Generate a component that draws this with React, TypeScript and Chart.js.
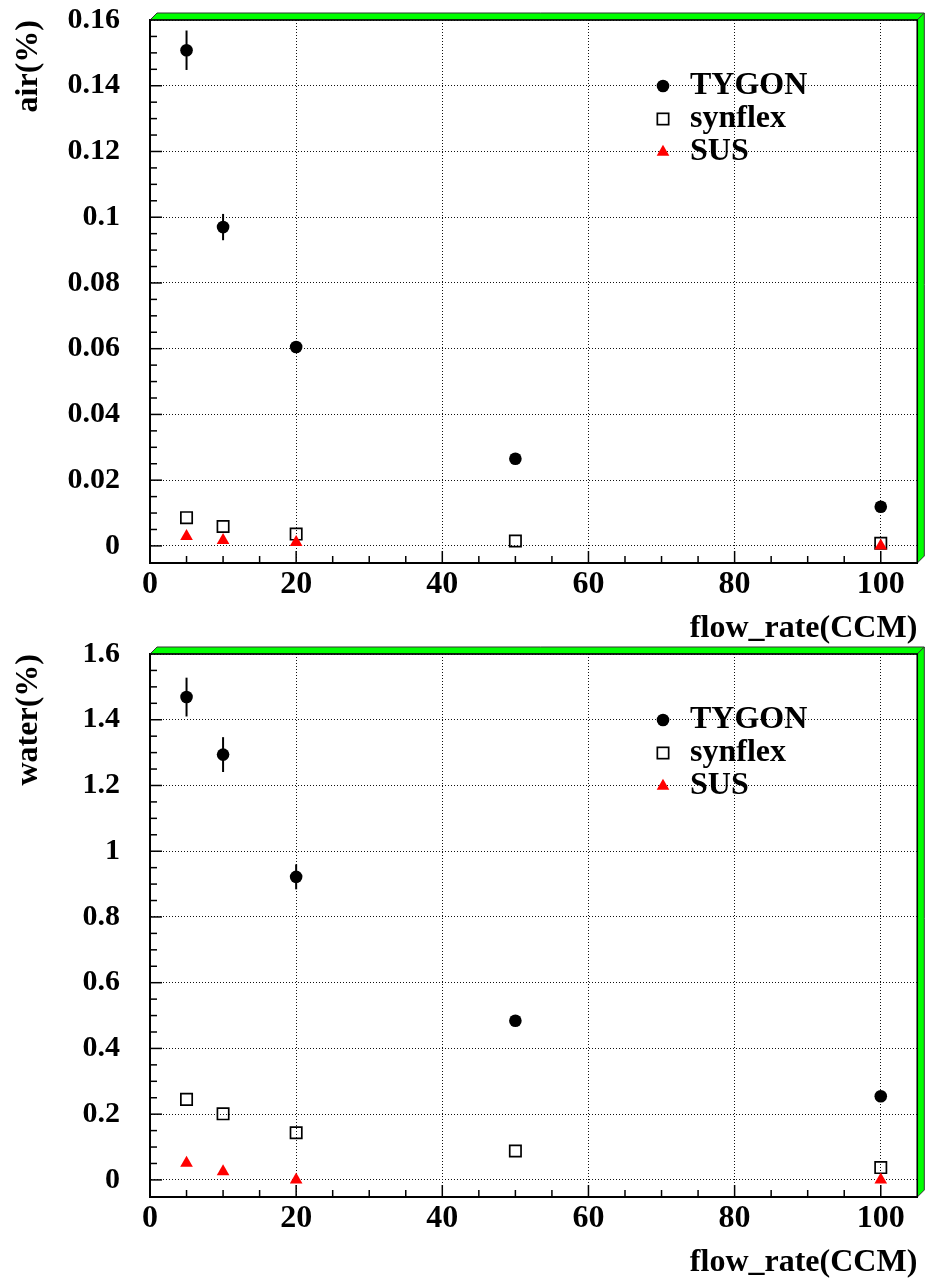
import React, { useEffect, useRef } from 'react';
import { Chart, registerables } from 'chart.js';

Chart.register(...registerables);

// ---------- data ----------
const FLOW = [5, 10, 20, 50, 100];
const FLOW_SUS = [5, 10, 20, 100];

const AIR_TYGON = [0.1508, 0.097, 0.0605, 0.0265, 0.0119];
const AIR_TYGON_ERR = [0.006, 0.004, 0.0015, 0.0008, 0.0005];
const AIR_SYNFLEX = [0.0086, 0.0059, 0.0036, 0.0015, 0.0008];
const AIR_SUS = [0.0029, 0.0017, 0.0011, 0.0];

const WATER_TYGON = [1.469, 1.294, 0.922, 0.484, 0.2545];
const WATER_TYGON_ERR = [0.059, 0.053, 0.038, 0.015, 0.01];
const WATER_SYNFLEX = [0.245, 0.201, 0.1435, 0.088, 0.0375];
const WATER_SUS = [0.051, 0.0255, 0.0, 0.0];

const X_TICKS = [0, 20, 40, 60, 80, 100];
const AIR_TICKS = [0, 0.02, 0.04, 0.06, 0.08, 0.1, 0.12, 0.14, 0.16];
const WATER_TICKS = [0, 0.2, 0.4, 0.6, 0.8, 1, 1.2, 1.4, 1.6];

const SERIES_NAMES = ['TYGON', 'synflex', 'SUS'];

// ---------- styling ----------
const FONT = '"Liberation Serif", "Times New Roman", serif';
const W = 927;
const H = 648;

const fmt = (v: any) => String(Number(Number(v).toFixed(4)));

const rootPlugin = {
  id: 'rootFrame',
  beforeDatasetsDraw(chart: any, _args: any, opts: any) {
    const { ctx, chartArea } = chart;
    const { left, right, top, bottom } = chartArea;
    const xs = chart.scales.x;
    const ys = chart.scales.y;
    ctx.save();
    ctx.strokeStyle = '#000';
    ctx.lineWidth = 1.5;
    // x inward ticks
    for (let i = Math.ceil(xs.min / opts.xMinor - 1e-6); i * opts.xMinor <= xs.max + 1e-9; i++) {
      const px = xs.getPixelForValue(i * opts.xMinor);
      if (px < left + 1 || px > right - 1) continue;
      const len = i % opts.xRatio === 0 ? 12 : 7;
      ctx.beginPath();
      ctx.moveTo(px, bottom);
      ctx.lineTo(px, bottom - len);
      ctx.stroke();
    }
    // y inward ticks
    for (let i = Math.ceil(ys.min / opts.yMinor - 1e-6); i * opts.yMinor <= ys.max + 1e-9; i++) {
      const py = ys.getPixelForValue(i * opts.yMinor);
      if (py > bottom - 1.5 || py < top + 1) continue;
      const len = i % opts.yRatio === 0 ? 12 : 7;
      ctx.beginPath();
      ctx.moveTo(left, py);
      ctx.lineTo(left + len, py);
      ctx.stroke();
    }
    // error bars
    ctx.lineWidth = 2;
    chart.data.datasets.forEach((ds: any) => {
      const errs = ds.errorBars;
      if (!errs) return;
      ds.data.forEach((pt: any, j: number) => {
        const px = xs.getPixelForValue(pt.x);
        const y1 = ys.getPixelForValue(pt.y - errs[j]);
        const y2 = ys.getPixelForValue(pt.y + errs[j]);
        ctx.beginPath();
        ctx.moveTo(px, y1);
        ctx.lineTo(px, y2);
        ctx.stroke();
      });
    });
    ctx.restore();
  },
  afterDatasetsDraw(chart: any) {
    // legend inside the frame
    const { ctx, chartArea } = chart;
    const { left, top } = chartArea;
    ctx.save();
    chart.data.datasets.forEach((ds: any, i: number) => {
      const cy = top + 66 + 33 * i;
      const cx = left + 513;
      if (ds.pointStyle === 'circle') {
        ctx.fillStyle = ds.backgroundColor;
        ctx.beginPath();
        ctx.arc(cx, cy, ds.pointRadius, 0, Math.PI * 2);
        ctx.fill();
      } else if (ds.pointStyle === 'rect') {
        const s = Math.SQRT1_2 * ds.pointRadius;
        ctx.strokeStyle = ds.borderColor;
        ctx.lineWidth = ds.borderWidth;
        ctx.strokeRect(cx - s, cy - s, 2 * s, 2 * s);
      } else if (ds.pointStyle === 'triangle') {
        const r = ds.pointRadius;
        ctx.fillStyle = ds.backgroundColor;
        ctx.beginPath();
        let a = 0;
        ctx.moveTo(cx + Math.sin(a) * r, cy - Math.cos(a) * r);
        a += (2 * Math.PI) / 3;
        ctx.lineTo(cx + Math.sin(a) * r, cy - Math.cos(a) * r);
        a += (2 * Math.PI) / 3;
        ctx.lineTo(cx + Math.sin(a) * r, cy - Math.cos(a) * r);
        ctx.closePath();
        ctx.fill();
      }
      ctx.fillStyle = '#000';
      ctx.font = `bold 32px ${FONT}`;
      ctx.textAlign = 'left';
      ctx.textBaseline = 'middle';
      ctx.fillText(ds.label, left + 540, cy);
    });
    ctx.restore();
  },
  afterDraw(chart: any) {
    const { ctx, chartArea } = chart;
    const { left, right, top, bottom } = chartArea;
    const d = 7;
    ctx.save();
    ctx.fillStyle = '#00ff00';
    ctx.strokeStyle = '#333';
    ctx.lineWidth = 1;
    ctx.beginPath();
    ctx.moveTo(left, top);
    ctx.lineTo(left + d, top - d);
    ctx.lineTo(right + d, top - d);
    ctx.lineTo(right, top);
    ctx.closePath();
    ctx.fill();
    ctx.stroke();
    ctx.beginPath();
    ctx.moveTo(right, top);
    ctx.lineTo(right + d, top - d);
    ctx.lineTo(right + d, bottom - d);
    ctx.lineTo(right, bottom);
    ctx.closePath();
    ctx.fill();
    ctx.stroke();
    ctx.strokeStyle = '#000';
    ctx.lineWidth = 1.5;
    ctx.beginPath();
    ctx.moveTo(left, top);
    ctx.lineTo(right, top);
    ctx.lineTo(right, bottom);
    ctx.stroke();
    ctx.restore();
  },
};

type PanelProps = {
  top: number;
  yTitle: string;
  yMin: number;
  yMax: number;
  yTicks: number[];
  yMinor: number;
  tygon: number[];
  tygonErr: number[];
  synflex: number[];
  sus: number[];
};

function Panel(p: PanelProps) {
  const ref = useRef<HTMLCanvasElement>(null);
  useEffect(() => {
    const tickFontX = { family: FONT, size: 32, weight: 'bold' as const };
    const tickFontY = { family: FONT, size: 30, weight: 'bold' as const };
    const titleFont = { family: FONT, size: 32, weight: 'bold' as const };
    const chart = new Chart(ref.current as HTMLCanvasElement, {
      type: 'scatter',
      data: {
        datasets: [
          {
            label: SERIES_NAMES[0],
            data: FLOW.map((x, i) => ({ x, y: p.tygon[i] })),
            pointStyle: 'circle',
            pointRadius: 6.3,
            backgroundColor: '#000',
            borderColor: '#000',
            borderWidth: 0,
            order: 3,
            errorBars: p.tygonErr,
          } as any,
          {
            label: SERIES_NAMES[1],
            data: FLOW.map((x, i) => ({ x, y: p.synflex[i] })),
            pointStyle: 'rect',
            pointRadius: 8,
            backgroundColor: 'rgba(0,0,0,0)',
            borderColor: '#000',
            borderWidth: 1.7,
            order: 2,
          } as any,
          {
            label: SERIES_NAMES[2],
            data: FLOW_SUS.map((x, i) => ({ x, y: p.sus[i] })),
            pointStyle: 'triangle',
            pointRadius: 7.3,
            backgroundColor: '#ff0000',
            borderColor: '#ff0000',
            borderWidth: 0,
            order: 1,
          } as any,
        ],
      },
      options: {
        responsive: false,
        animation: false,
        events: [],
        layout: { padding: { top: 20, right: 8, left: 0, bottom: 0 } },
        plugins: {
          legend: { display: false },
          tooltip: { enabled: false },
          rootFrame: { xMinor: 5, xRatio: 4, yMinor: p.yMinor, yRatio: 4 },
        } as any,
        scales: {
          x: {
            type: 'linear',
            min: 0,
            max: 105,
            afterBuildTicks: (s: any) => {
              s.ticks = X_TICKS.map((v) => ({ value: v }));
            },
            afterFit: (s: any) => {
              s.height = 85;
              s.paddingLeft = 0;
              s.paddingRight = 0;
              s.paddingTop = 0;
              s.paddingBottom = 0;
            },
            ticks: {
              font: tickFontX,
              color: '#000',
              padding: 3,
              maxRotation: 0,
              autoSkip: false,
              callback: fmt,
            },
            grid: { color: '#111', lineWidth: 1, drawTicks: false },
            border: { display: true, color: '#000', width: 2, dash: [1, 2] },
            title: {
              display: true,
              text: 'flow_rate(CCM)',
              align: 'end',
              color: '#000',
              font: titleFont,
              padding: { top: 0, bottom: 0 },
            },
          },
          y: {
            type: 'linear',
            min: p.yMin,
            max: p.yMax,
            afterBuildTicks: (s: any) => {
              s.ticks = p.yTicks.map((v) => ({ value: v }));
            },
            afterFit: (s: any) => {
              s.width = 150;
              s.paddingLeft = 0;
              s.paddingRight = 0;
              s.paddingTop = 0;
              s.paddingBottom = 0;
            },
            ticks: {
              font: tickFontY,
              color: '#000',
              padding: 30,
              autoSkip: false,
              callback: fmt,
            },
            grid: { color: '#111', lineWidth: 1, drawTicks: false },
            border: { display: true, color: '#000', width: 2, dash: [1, 2] },
            title: {
              display: true,
              text: p.yTitle,
              align: 'end',
              color: '#000',
              font: titleFont,
              padding: { top: 10, bottom: 0 },
            },
          },
        },
      },
      plugins: [rootPlugin as any],
    });
    return () => chart.destroy();
  }, []);
  return (
    <div style={{ position: 'absolute', left: 0, top: p.top, width: W, height: H }}>
      <canvas ref={ref} width={W} height={H} />
    </div>
  );
}

export default function App() {
  return (
    <div style={{ position: 'absolute', left: 0, top: 0, width: W, height: 1283, overflow: 'hidden', background: '#fff' }}>
      <Panel
        top={0}
        yTitle="air(%)"
        yMin={-0.0052}
        yMax={0.16}
        yTicks={AIR_TICKS}
        yMinor={0.005}
        tygon={AIR_TYGON}
        tygonErr={AIR_TYGON_ERR}
        synflex={AIR_SYNFLEX}
        sus={AIR_SUS}
      />
      <Panel
        top={634}
        yTitle="water(%)"
        yMin={-0.052}
        yMax={1.6}
        yTicks={WATER_TICKS}
        yMinor={0.05}
        tygon={WATER_TYGON}
        tygonErr={WATER_TYGON_ERR}
        synflex={WATER_SYNFLEX}
        sus={WATER_SUS}
      />
    </div>
  );
}
